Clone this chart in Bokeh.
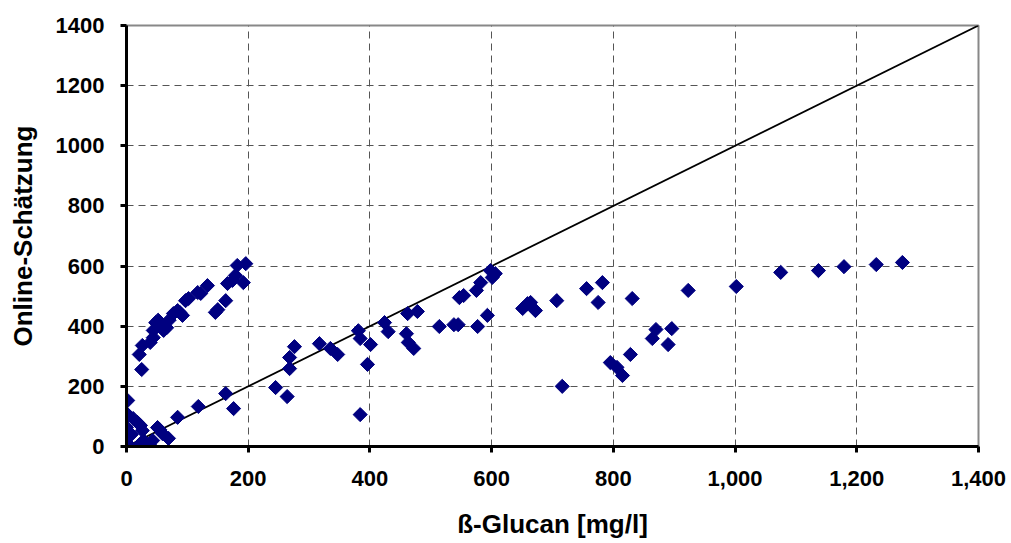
import numpy as np
from bokeh.plotting import figure
from bokeh.models import Range1d, FixedTicker, NumeralTickFormatter, ColumnDataSource
from bokeh.embed import file_html
from bokeh.resources import INLINE

# ß-Glucan [mg/l] (offline reference) vs. online estimate
glucan = [
    25, 21, 26, 39, 44, 44, 48, 56, 61, 52, 66, 77, 84, 92, 97, 102, 117, 122, 133, 146, 150, 163, 166, 174, 179, 182, 196, 192, 70, 88,
    2, 0, 3, 11, 18, 23, 26, 0, 0, 0, 0, 2, 20, 28, 39, 43, 51, 59, 69, 84, 118, 8, 55,
    163, 176, 245, 264, 268, 268, 276, 317, 335, 347, 381, 384, 401, 396, 384, 424, 430, 460, 463, 472, 462, 478, 514, 538, 545, 577, 593, 547, 554, 575, 582, 598, 606, 601,
    651, 659, 664, 672, 707, 756, 782, 775, 831, 923, 1002, 716, 795, 806, 815, 828, 864, 870, 896, 890, 1075, 1137, 1179, 1232, 1275,
]
online = [
    256, 306, 336, 346, 362, 386, 412, 402, 386, 420, 395, 442, 452, 436, 485, 492, 512, 509, 535, 446, 455, 485, 542, 552, 569, 602, 608, 545, 420, 445,
    153, 110, 103, 93, 80, 70, 53, 53, 63, 30, 13, 3, 3, 20, 3, 20, 63, 43, 27, 97, 133, 40, 55,
    176, 126, 196, 166, 259, 296, 332, 342, 326, 306, 385, 359, 339, 273, 106, 412, 382, 375, 346, 326, 442, 449, 399, 405, 405, 399, 436, 495, 502, 519, 545, 585, 575, 562,
    459, 475, 479, 452, 485, 525, 545, 479, 492, 519, 532, 200, 279, 263, 236, 306, 359, 389, 392, 339, 579, 585, 598, 605, 612,
]
diag_x = [0, 1400]
diag_y = [0, 1400]
ticks = [0, 200, 400, 600, 800, 1000, 1200, 1400]

p = figure(width=1011, height=543, output_backend="svg", toolbar_location=None,
           x_range=Range1d(0, 1400), y_range=Range1d(0, 1400),
           min_border_left=126, min_border_right=33, min_border_top=25, min_border_bottom=97)

p.background_fill_color = "white"
p.border_fill_color = "white"
p.outline_line_color = "#888888"
p.outline_line_width = 2

for ax in (p.xaxis[0], p.yaxis[0]):
    ax.ticker = FixedTicker(ticks=ticks)
    ax.minor_tick_line_color = None
    ax.axis_line_color = "black"
    ax.axis_line_width = 3
    ax.major_tick_line_color = "black"
    ax.major_tick_line_width = 3
    ax.major_tick_out = 6
    ax.major_tick_in = 0
    ax.major_label_text_font = "Liberation Sans"
    ax.major_label_text_font_style = "bold"
    ax.major_label_text_font_size = "22px"
    ax.major_label_text_color = "black"
    ax.axis_label_text_font = "Liberation Sans"
    ax.axis_label_text_font_style = "bold"
    ax.axis_label_text_font_size = "26px"
    ax.axis_label_text_color = "black"

p.xaxis[0].formatter = NumeralTickFormatter(format="0,0")
p.xaxis[0].axis_label = "ß-Glucan [mg/l]"
p.xaxis[0].major_label_standoff = 18
p.xaxis[0].axis_label_standoff = 20
p.yaxis[0].axis_label = "Online-Schätzung"
p.yaxis[0].major_label_standoff = 16
p.yaxis[0].axis_label_standoff = 15

for g in (p.xgrid[0], p.ygrid[0]):
    g.grid_line_color = "#555555"
    g.grid_line_dash = "7 5"
    g.grid_line_width = 1

p.line(diag_x, diag_y, line_color="black", line_width=1.8)

src = ColumnDataSource(dict(x=glucan, y=online))
p.scatter("x", "y", source=src, marker="square", angle=np.pi / 4, size=10,
          fill_color="#000080", line_color="#000080")

open("out.html", "w").write(file_html(p, INLINE))
